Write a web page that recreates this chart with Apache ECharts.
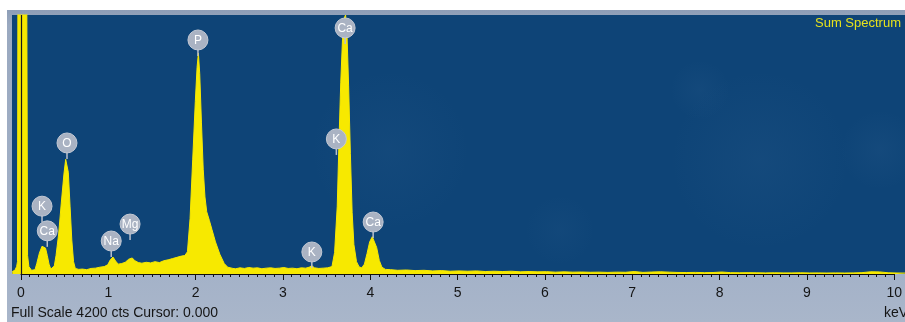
<!DOCTYPE html>
<html>
<head>
<meta charset="utf-8">
<script src="https://cdn.jsdelivr.net/npm/echarts@6/dist/echarts.min.js"></script>
<style>
  html, body { margin: 0; padding: 0; background: #ffffff; }
  #chart { width: 905px; height: 322px; }
</style>
</head>
<body>
<div id="chart"></div>
<script>
// EDS sum spectrum: energy (keV) and counts per channel
const energyKeV = [
  -0.10, -0.07, -0.05, -0.04, -0.035, -0.02, 0.05, 0.065, 0.075, 0.09,
  0.12, 0.14, 0.16, 0.18, 0.21, 0.24, 0.26, 0.28, 0.30, 0.32,
  0.34, 0.36, 0.38, 0.40, 0.43, 0.46, 0.49, 0.51, 0.525, 0.54,
  0.56, 0.58, 0.60, 0.62, 0.66, 0.70, 0.75, 0.80, 0.85, 0.90,
  0.95, 0.99, 1.02, 1.05, 1.08, 1.11, 1.15, 1.19, 1.23, 1.27,
  1.30, 1.34, 1.38, 1.43, 1.48, 1.53, 1.58, 1.63, 1.68, 1.73,
  1.78, 1.83, 1.87, 1.90, 1.93, 1.96, 1.99, 2.01, 2.025, 2.04,
  2.06, 2.08, 2.10, 2.12, 2.15, 2.18, 2.22, 2.27, 2.32, 2.36,
  2.42, 2.45, 2.50, 2.55, 2.60, 2.65, 2.70, 2.75, 2.80, 2.85,
  2.90, 2.95, 3.00, 3.05, 3.10, 3.15, 3.20, 3.25, 3.29, 3.32,
  3.35, 3.40, 3.45, 3.50, 3.55, 3.58, 3.61, 3.63, 3.65, 3.67,
  3.69, 3.705, 3.72, 3.74, 3.76, 3.78, 3.80, 3.83, 3.86, 3.89,
  3.92, 3.95, 3.98, 4.01, 4.03, 4.06, 4.09, 4.12, 4.16, 4.22,
  4.30, 4.40, 4.50, 4.60, 4.70, 4.80, 4.90, 5.00, 5.10, 5.20,
  5.30, 5.40, 5.50, 5.60, 5.70, 5.80, 5.90, 6.00, 6.10, 6.20,
  6.30, 6.40, 6.50, 6.60, 6.70, 6.80, 6.90, 7.00, 7.10, 7.20,
  7.30, 7.40, 7.50, 7.60, 7.70, 7.80, 7.90, 8.00, 8.10, 8.20,
  8.30, 8.40, 8.50, 8.60, 8.70, 8.80, 8.90, 9.00, 9.10, 9.20,
  9.30, 9.40, 9.50, 9.60, 9.70, 9.80, 9.90, 10.00, 10.10
];
const counts = [
  40, 60, 120, 200, 5000, 12000, 12000, 5000, 300, 120,
  60, 30, 70, 170, 340, 450, 460, 420, 300, 160,
  80, 70, 130, 300, 650, 1150, 1620, 1860, 1890, 1650,
  1100, 550, 200, 90, 75, 80, 70, 90, 95, 110,
  120, 150, 230, 275, 210, 160, 170, 190, 240, 260,
  215, 185, 175, 190, 180, 200, 185, 215, 230, 250,
  270, 290, 300, 360, 900, 1850, 2800, 3350, 3580, 3250,
  2450, 1700, 1250, 1010, 870, 720, 520, 320, 170, 110,
  90, 85, 100, 90, 105, 95, 100, 85, 95, 100,
  90, 95, 105, 90, 95, 85, 100, 95, 110, 135,
  100, 90, 95, 100, 120, 350, 1100, 2150, 3100, 3800,
  4150, 4200, 3950, 3050, 1950, 1000, 480, 200, 115, 100,
  160, 330, 520, 605, 590, 430, 220, 110, 75, 70,
  60, 65, 55, 60, 50, 55, 45, 50, 45, 50,
  40, 45, 40, 45, 35, 40, 35, 38, 30, 35,
  30, 32, 28, 30, 26, 30, 28, 40, 26, 32,
  36, 30, 25, 24, 26, 22, 24, 32, 22, 20,
  22, 20, 18, 20, 18, 18, 20, 17, 18, 16,
  18, 16, 18, 22, 36, 34, 20, 16, 15
];

// Element peak markers: symbol, energy (keV), bubble height (cts)
const peakNames  = ['K', 'Ca', 'O', 'Na', 'Mg', 'P', 'K', 'K', 'Ca', 'Ca'];
const peakEnergy = [0.24, 0.30, 0.525, 1.03, 1.245, 2.02, 3.32, 3.60, 3.70, 4.02];
const peakLevel  = [1100, 700, 2125, 535, 810, 3795, 357, 2190, 3990, 843];

const axisTicks = [0, 1, 2, 3, 4, 5, 6, 7, 8, 9, 10];
const fullScale = 4200;
const cursorKeV = 0.000;

const spectrum = energyKeV.map((e, i) => [e, counts[i]]);
const markers = peakEnergy.map((e, i) => ({ name: peakNames[i], value: [e, peakLevel[i]] }));

const chart = echarts.init(document.getElementById('chart'), null, { renderer: 'canvas' });

const PLOT_TOP = 15, PLOT_BOTTOM = 48;
const KEV_PX = 87.6, ZERO_X = 21;
const FONT = '"Liberation Sans", Arial, sans-serif';

// faint mottled texture of the window background
const haze = [
  { cx: 390, cy: 150, rx: 120, ry: 80, o: 0.05 },
  { cx: 760, cy: 160, rx: 150, ry: 90, o: 0.06 },
  { cx: 700, cy: 90, rx: 120, ry: 30, o: 0.05 },
  { cx: 560, cy: 230, rx: 110, ry: 35, o: 0.04 },
  { cx: 880, cy: 150, rx: 40, ry: 120, o: 0.06 }
].map(h => ({
  type: 'ellipse', z: -1, silent: true,
  shape: { cx: h.cx, cy: h.cy, rx: h.rx, ry: h.ry },
  style: { fill: new echarts.graphic.RadialGradient(0.5, 0.5, 0.5, [
    { offset: 0, color: 'rgba(120,160,200,' + h.o + ')' },
    { offset: 1, color: 'rgba(120,160,200,0)' }]) }
}));

chart.setOption({
  animation: false,
  backgroundColor: '#ffffff',
  graphic: [
    // instrument frame around the spectrum window
    { type: 'rect', z: -10, shape: { x: 7, y: 10, width: 898, height: 312 },
      style: { fill: new echarts.graphic.LinearGradient(0, 0, 0, 1, [
        { offset: 0, color: '#8e9eb7' }, { offset: 0.05, color: '#9aa9c0' },
        { offset: 0.85, color: '#a4b2c8' }, { offset: 1, color: '#a9b6ca' }]) } },
    { type: 'rect', z: -2, silent: true, shape: { x: 12, y: PLOT_TOP, width: 893, height: 322 - PLOT_TOP - PLOT_BOTTOM },
      style: { fill: '#0e4477' } },
    ...haze,
    { type: 'text', left: 815, top: 17, z: 20,
      style: { text: 'Sum Spectrum', fill: '#e6e21c', font: '13px ' + FONT } },
    { type: 'text', left: 11, top: 306, z: 20,
      style: { text: 'Full Scale ' + fullScale + ' cts Cursor: ' + cursorKeV.toFixed(3),
               fill: '#151515', font: '14px ' + FONT } },
    { type: 'text', left: 884, top: 306, z: 20,
      style: { text: 'keV', fill: '#151515', font: '14px ' + FONT } }
  ],
  grid: [
    { left: 12, right: 0, top: PLOT_TOP, bottom: PLOT_BOTTOM, show: false },
    { left: ZERO_X, right: 905 - ZERO_X - 10 * KEV_PX, top: PLOT_TOP, bottom: PLOT_BOTTOM }
  ],
  xAxis: [
    { type: 'value', gridIndex: 0,
      min: (12 - ZERO_X) / KEV_PX, max: (905 - ZERO_X) / KEV_PX,
      axisLine: { show: false }, axisTick: { show: false }, axisLabel: { show: false },
      splitLine: { show: false } },
    { type: 'value', gridIndex: 1, min: axisTicks[0], max: axisTicks[axisTicks.length - 1], interval: 1,
      axisLine: { show: true, onZero: false, lineStyle: { color: '#111111', width: 1 } },
      axisTick: { show: true, length: 6, lineStyle: { color: '#111111' } },
      minorTick: { show: true, splitNumber: 10, length: 3, lineStyle: { color: '#111111' } },
      axisLabel: { show: true, color: '#151515', fontSize: 14, margin: 12, fontFamily: FONT },
      splitLine: { show: false } }
  ],
  yAxis: [
    { type: 'value', gridIndex: 0, min: 0, max: fullScale, show: false },
    { type: 'value', gridIndex: 1, min: 0, max: fullScale, show: false }
  ],
  series: [
    {
      type: 'line', xAxisIndex: 0, yAxisIndex: 0, data: spectrum,
      showSymbol: false, clip: true, z: 3,
      lineStyle: { color: '#f7e900', width: 1 },
      areaStyle: { color: '#f7e900', opacity: 1 },
      markLine: {
        silent: true, symbol: 'none', label: { show: false },
        lineStyle: { color: '#1a1a1a', width: 1.2, type: 'solid' },
        data: [{ xAxis: cursorKeV }]
      }
    },
    {
      type: 'custom', xAxisIndex: 0, yAxisIndex: 0, z: 10, data: markers,
      renderItem: function (params, api) {
        const p = api.coord([api.value(0), api.value(1)]);
        const name = markers[params.dataIndex].name;
        return {
          type: 'group',
          children: [
            { type: 'line', shape: { x1: p[0], y1: p[1] + 8, x2: p[0], y2: p[1] + 16 },
              style: { stroke: '#b9c0cd', lineWidth: 1.5 } },
            { type: 'circle', shape: { cx: p[0], cy: p[1], r: 10 },
              style: { fill: '#aab3c3', stroke: '#c3c9d4', lineWidth: 1 } },
            { type: 'text', style: { text: name, x: p[0], y: p[1] + 0.5, align: 'center',
              verticalAlign: 'middle', fill: '#ffffff', font: '12px ' + FONT } }
          ]
        };
      }
    },
    { type: 'line', xAxisIndex: 1, yAxisIndex: 1, data: [], showSymbol: false }
  ]
});
</script>
</body>
</html>
